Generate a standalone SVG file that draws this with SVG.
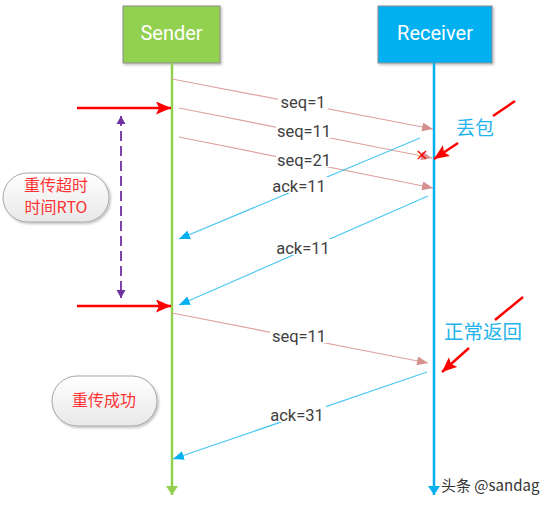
<svg xmlns="http://www.w3.org/2000/svg" width="550" height="505" viewBox="0 0 550 505">
<defs>
<marker id="mSeq" markerUnits="userSpaceOnUse" markerWidth="12" markerHeight="10" refX="11" refY="4.5" orient="auto"><path d="M0,0 L11,4.5 L0,9 z" fill="#D4908E"/></marker>
<marker id="mAck" markerUnits="userSpaceOnUse" markerWidth="12" markerHeight="10" refX="11" refY="4.5" orient="auto"><path d="M0,0 L11,4.5 L0,9 z" fill="#00B0F0"/></marker>
<marker id="mGreen" markerUnits="userSpaceOnUse" markerWidth="12" markerHeight="12" refX="9" refY="6" orient="auto"><path d="M0,0 L9,6 L0,12 z" fill="#92D050"/></marker>
<marker id="mBlue" markerUnits="userSpaceOnUse" markerWidth="12" markerHeight="12" refX="9" refY="6" orient="auto"><path d="M0,0 L9,6 L0,12 z" fill="#00B0F0"/></marker>
<marker id="mRed" markerUnits="userSpaceOnUse" markerWidth="16" markerHeight="14" refX="15" refY="6.5" orient="auto"><path d="M0,0 L15,6.5 L0,13 L3,6.5 z" fill="#FF0000"/></marker>
<marker id="mPurple" markerUnits="userSpaceOnUse" markerWidth="10" markerHeight="10" refX="8" refY="4.5" orient="auto"><path d="M0,0 L8,4.5 L0,9 z" fill="#7030A0"/></marker>
<marker id="mPurpleS" markerUnits="userSpaceOnUse" markerWidth="10" markerHeight="10" refX="0" refY="4.5" orient="auto"><path d="M8,0 L0,4.5 L8,9 z" fill="#7030A0"/></marker>
<linearGradient id="pill" x1="0" y1="0" x2="0" y2="1"><stop offset="0" stop-color="#FFFFFF"/><stop offset="1" stop-color="#E8E8E8"/></linearGradient>
<filter id="sh" x="-10%" y="-10%" width="130%" height="140%"><feDropShadow dx="1.5" dy="1.5" stdDeviation="1.2" flood-color="#000" flood-opacity="0.25"/></filter>
</defs>
<style>
.box{stroke:#8C8C8C;stroke-width:1}
.head{font-family:Roboto,"Noto Sans",sans-serif;font-size:20px;fill:#FFFFFF;text-anchor:middle}
.seq{stroke:#DDA3A1;stroke-width:1.2;fill:none;marker-end:url(#mSeq)}
.ack{stroke:#4CC8F2;stroke-width:1.2;fill:none;marker-end:url(#mAck)}
.lbl{font-family:Roboto,"Noto Sans",sans-serif;font-size:16.5px;fill:#404040;text-anchor:middle}
.bg{fill:#FFFFFF}
.red{stroke:#FF0000;stroke-width:2.5;fill:none}
.cn{font-family:"Noto Sans CJK SC",sans-serif;text-anchor:middle}
.pill{fill:url(#pill);stroke:#A6A6A6;stroke-width:1}
</style>
<g id="sender">
<rect class="box" x="123" y="6" width="97" height="57" fill="#92D050" filter="url(#sh)"/>
<text class="head" x="171.5" y="40">Sender</text>
<line x1="172" y1="63" x2="172" y2="495" stroke="#92D050" stroke-width="2.5" marker-end="url(#mGreen)"/>
</g>
<g id="receiver">
<rect class="box" x="378" y="6" width="114" height="57" fill="#00B0F0" filter="url(#sh)"/>
<text class="head" x="435" y="40">Receiver</text>
<line x1="434" y1="63" x2="434" y2="495" stroke="#00B0F0" stroke-width="2.5" marker-end="url(#mBlue)"/>
</g>
<g id="connectors">
<line class="seq" x1="172" y1="79" x2="433" y2="129"/>
<line class="seq" x1="179" y1="108" x2="432" y2="158"/>
<line class="seq" x1="179" y1="137" x2="433" y2="188"/>
<line class="ack" x1="420" y1="138" x2="179" y2="239"/>
<line class="ack" x1="428" y1="196" x2="179" y2="305"/>
<line class="seq" x1="172" y1="313" x2="428" y2="363"/>
<line class="ack" x1="427" y1="372" x2="173" y2="459"/>
<line class="red" x1="77" y1="108" x2="171" y2="108" marker-end="url(#mRed)"/>
<line class="red" x1="77" y1="306" x2="171" y2="306" marker-end="url(#mRed)"/>
<line x1="121" y1="116" x2="121" y2="298" stroke="#7030A0" stroke-width="1.8" stroke-dasharray="10,5" marker-start="url(#mPurpleS)" marker-end="url(#mPurple)"/>
<line class="red" x1="515" y1="101" x2="493" y2="116"/>
<line class="red" x1="458" y1="143" x2="434" y2="159" marker-end="url(#mRed)"/>
<line class="red" x1="523" y1="297" x2="495" y2="320"/>
<line class="red" x1="469" y1="348" x2="442" y2="372" marker-end="url(#mRed)"/>
</g>
<g id="labels">
<rect class="bg" x="278" y="93" width="50" height="16"/><text class="lbl" x="303" y="108">seq=1</text>
<rect class="bg" x="276" y="122" width="56" height="16"/><text class="lbl" x="304" y="137">seq=11</text>
<rect class="bg" x="276" y="151" width="56" height="16"/><text class="lbl" x="304" y="166">seq=21</text>
<rect class="bg" x="270" y="177" width="58" height="16"/><text class="lbl" x="299" y="192">ack=11</text>
<rect class="bg" x="274" y="239" width="58" height="16"/><text class="lbl" x="303" y="254">ack=11</text>
<rect class="bg" x="270" y="327" width="58" height="16"/><text class="lbl" x="299" y="342">seq=11</text>
<rect class="bg" x="268" y="406" width="58" height="16"/><text class="lbl" x="297" y="421">ack=31</text>
<text x="422" y="160" font-family="'DejaVu Sans',sans-serif" font-size="16" fill="#FF0000" text-anchor="middle">×</text>
</g>
<g id="rto">
<rect class="pill" x="3" y="173" width="106" height="49" rx="24.5" filter="url(#sh)"/>
<text class="cn" x="56" y="191" font-size="16" fill="#FF3333">重传超时</text>
<text class="cn" x="56" y="213" font-size="16" fill="#FF3333">时间RTO</text>
</g>
<g id="success">
<rect class="pill" x="52" y="376" width="105" height="50" rx="25" filter="url(#sh)"/>
<text class="cn" x="104" y="406" font-size="16" fill="#FF3333">重传成功</text>
</g>
<g id="loss">
<text class="cn" x="475" y="135" font-size="19" fill="#1FB4EC">丢包</text>
</g>
<g id="normal">
<text class="cn" x="483" y="339" font-size="19.5" fill="#1FB4EC">正常返回</text>
</g>
<text x="441" y="491" font-family="'Noto Sans CJK SC',sans-serif" font-size="15" fill="#333333">头条 @sandag</text>
</svg>
